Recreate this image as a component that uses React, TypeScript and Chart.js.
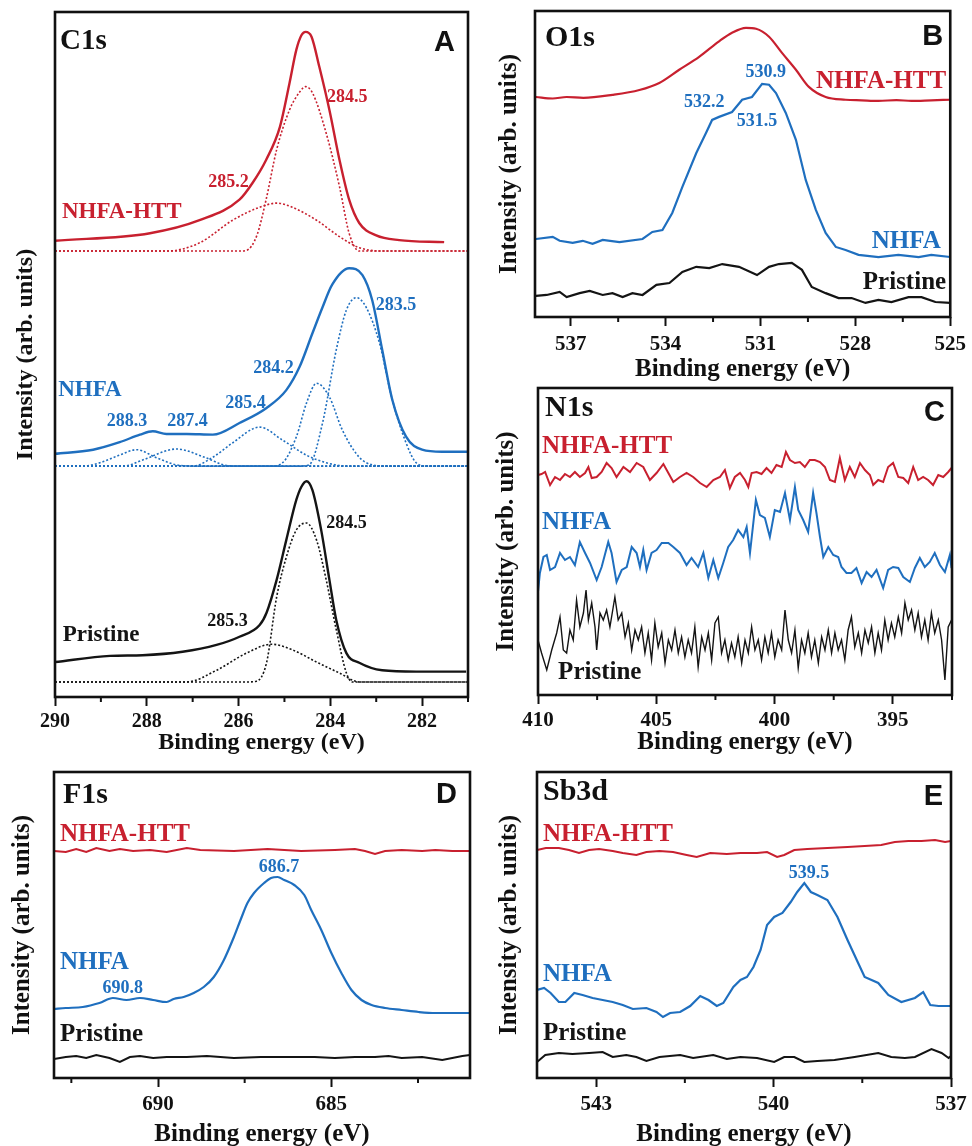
import React, { useEffect, useRef } from "react";
import { Chart, registerables } from "chart.js";
Chart.register(...registerables);

const RED = "#c8202f";
const BLUE = "#1f6fbf";
const BLACK = "#141414";
const SERIF = "'Liberation Serif', 'Times New Roman', serif";
const SANS = "'Liberation Sans', Arial, sans-serif";

// ---------- Panel A: C1s ----------
const A_HTT_E = [290, 287.93, 286.85, 285.98, 285.7, 285.4, 285.1, 284.89, 284.74, 284.63, 284.54, 284.41, 284.24, 284.02, 283.8, 283.59, 283.37, 283.0, 282.5, 281.52];
const A_HTT_I = [66.6, 67.7, 69.6, 72.6, 75.0, 78.4, 83.2, 89.6, 94.5, 96.6, 97.1, 96.4, 92.0, 85.7, 78.4, 72.6, 69.2, 67.4, 66.7, 66.4];
const A_HTT_F1_E = [290, 286.0, 285.83, 285.6, 285.4, 285.17, 284.89, 284.67, 284.54, 284.39, 284.09, 283.8, 283.59, 283.37, 281];
const A_HTT_F1_I = [65.1, 65.1, 65.2, 67.4, 72.6, 79.9, 85.7, 88.3, 89.1, 88.2, 82.3, 74.5, 67.7, 65.1, 65.1];
const A_HTT_F2_E = [290, 287.57, 286.85, 286.13, 285.54, 285.17, 284.83, 284.3, 283.8, 283.37, 282.87, 281];
const A_HTT_F2_I = [65.1, 65.1, 66.3, 69.6, 71.5, 72.1, 71.5, 69.6, 67.2, 65.6, 65.1, 65.1];

const A_NHFA_E = [290, 289.17, 288.59, 288.15, 287.87, 287.57, 287.13, 286.56, 285.98, 285.39, 284.96, 284.67, 284.39, 284.17, 283.96, 283.59, 283.3, 283.09, 282.87, 282.65, 282.35, 282.0, 281.57, 281.0];
const A_NHFA_I = [35.5, 36.1, 37.2, 38.3, 38.8, 38.4, 38.4, 38.3, 40.0, 42.2, 44.8, 48.2, 53.1, 56.9, 60.2, 62.6, 61.6, 58.0, 50.7, 43.4, 38.0, 36.1, 35.8, 35.8];
const A_NHFA_F1_E = [290, 289.4, 289.02, 288.6, 288.22, 287.78, 287.28, 286.8, 281];
const A_NHFA_F1_I = [33.7, 33.7, 34.2, 35.3, 36.1, 34.9, 33.8, 33.7, 33.7];
const A_NHFA_F2_E = [290, 288.5, 288.09, 287.35, 286.7, 286.26, 285.8, 281];
const A_NHFA_F2_I = [33.7, 33.7, 34.6, 36.2, 34.9, 33.8, 33.7, 33.7];
const A_NHFA_F3_E = [290, 287.0, 286.56, 286.13, 285.54, 285.04, 284.52, 284.09, 283.6, 281];
const A_NHFA_F3_I = [33.7, 33.7, 35.0, 37.1, 39.4, 37.5, 35.3, 34.2, 33.7, 33.7];
const A_NHFA_F4_E = [290, 285.3, 285.04, 284.74, 284.52, 284.3, 284.02, 283.74, 283.37, 283.09, 282.7, 281];
const A_NHFA_F4_I = [33.7, 33.7, 34.2, 38.0, 42.9, 45.8, 43.8, 39.0, 35.0, 33.9, 33.7, 33.7];
const A_NHFA_F5_E = [290, 284.7, 284.46, 284.17, 283.87, 283.65, 283.43, 283.22, 282.93, 282.65, 282.35, 282.13, 281.9, 281];
const A_NHFA_F5_I = [33.7, 33.7, 33.9, 40.0, 50.7, 56.5, 58.3, 56.9, 51.7, 43.4, 37.1, 34.2, 33.7, 33.7];

const A_PRI_E = [290, 288.8, 288.09, 287.22, 286.48, 285.98, 285.54, 285.39, 285.17, 284.96, 284.74, 284.63, 284.52, 284.39, 284.2, 284.02, 283.87, 283.65, 283.37, 282.87, 282.13, 281.04];
const A_PRI_I = [5.1, 6.0, 6.1, 6.6, 7.6, 8.8, 10.5, 12.3, 17.1, 22.9, 28.8, 30.7, 31.5, 30.2, 24.4, 17.1, 11.2, 6.4, 5.0, 3.9, 3.7, 3.7];
const A_PRI_F1_E = [290, 285.8, 285.61, 285.39, 285.17, 284.96, 284.74, 284.52, 284.3, 284.09, 283.87, 283.65, 283.52, 281];
const A_PRI_F1_I = [2.2, 2.2, 2.3, 5.0, 14.6, 20.4, 24.4, 25.4, 22.9, 17.1, 9.8, 3.5, 2.2, 2.2];
const A_PRI_F2_E = [290, 287.13, 286.48, 285.83, 285.28, 284.83, 284.3, 283.8, 283.37, 281];
const A_PRI_F2_I = [2.2, 2.2, 3.9, 6.4, 7.7, 6.9, 5.1, 3.5, 2.2, 2.2];

const A_MAJOR = [290, 288, 286, 284, 282];
const A_MINOR = [289, 287, 285, 283, 281];

// ---------- Panel B: O1s ----------
const B_HTT_E = [538.1, 537.57, 537.13, 536.6, 535.68, 534.83, 534.2, 533.57, 532.94, 532.31, 531.9, 531.46, 531.14, 530.73, 530.32, 529.88, 529.47, 528.94, 528.31, 527.8, 527.27, 526.7, 526.23, 525.6, 525.0];
const B_HTT_I = [71.9, 71.4, 71.9, 71.6, 72.6, 74.2, 76.5, 80.8, 85.0, 90.1, 92.9, 94.5, 94.2, 91.6, 86.3, 80.8, 75.2, 71.9, 71.0, 70.8, 70.6, 70.9, 70.6, 70.8, 71.0];
const B_NHFA_E = [538.1, 537.57, 537.35, 536.94, 536.62, 536.31, 535.99, 535.46, 534.73, 534.42, 534.1, 533.79, 533.47, 533.03, 532.72, 532.53, 532.31, 531.9, 531.58, 531.27, 530.95, 530.73, 530.51, 530.2, 529.88, 529.57, 529.25, 528.94, 528.62, 528.31, 527.9, 527.27, 526.64, 526.0, 525.6, 525.0];
const B_NHFA_I = [25.5, 26.2, 24.9, 24.2, 24.9, 23.9, 25.2, 24.5, 25.5, 27.8, 28.4, 34.0, 42.5, 53.6, 60.2, 64.4, 65.4, 67.0, 71.0, 71.9, 76.2, 75.9, 73.2, 66.7, 57.9, 44.8, 35.0, 27.5, 22.9, 21.9, 20.3, 19.6, 20.3, 19.6, 20.3, 19.6];
const B_PRI_E = [538.1, 537.76, 537.35, 537.13, 536.72, 536.4, 535.99, 535.68, 535.36, 535.05, 534.73, 534.29, 533.88, 533.47, 533.03, 532.62, 532.21, 531.68, 531.11, 530.73, 530.42, 530.01, 529.69, 529.38, 528.94, 528.53, 528.12, 527.68, 527.27, 526.86, 526.32, 525.91, 525.47, 525.0];
const B_PRI_I = [6.9, 7.2, 8.2, 6.5, 7.8, 8.5, 7.2, 7.8, 6.5, 7.8, 7.2, 10.5, 11.1, 14.7, 16.4, 16.0, 17.3, 16.4, 13.7, 16.4, 17.3, 17.7, 15.4, 9.8, 7.8, 6.2, 6.2, 4.6, 5.6, 4.9, 6.5, 6.5, 4.9, 4.6];
const B_MAJOR = [537, 534, 531, 528, 525];
const B_MINOR = [535.5, 532.5, 529.5, 526.5];

// ---------- Panel C: N1s ----------
const C_HTT_E = [410.0, 409.85, 409.70, 409.49, 409.28, 409.07, 408.86, 408.65, 408.44, 408.23, 408.01, 407.87, 407.73, 407.52, 407.31, 407.10, 406.89, 406.68, 406.39, 406.11, 405.83, 405.55, 405.27, 404.99, 404.70, 404.49, 404.28, 404.00, 403.72, 403.44, 403.15, 402.87, 402.59, 402.31, 402.10, 401.89, 401.68, 401.46, 401.25, 401.11, 400.97, 400.76, 400.55, 400.34, 400.13, 399.92, 399.70, 399.52, 399.35, 399.14, 398.93, 398.72, 398.51, 398.30, 398.08, 397.87, 397.66, 397.45, 397.24, 397.03, 396.82, 396.61, 396.39, 396.18, 395.97, 395.83, 395.62, 395.41, 395.20, 394.99, 394.77, 394.56, 394.35, 394.14, 393.93, 393.72, 393.51, 393.30, 393.08, 392.87, 392.66, 392.52];
const C_HTT_I = [220, 221, 223, 210, 218, 215, 221, 218, 223, 218, 222, 228, 217, 218, 223, 232, 227, 218, 228, 223, 232, 228, 215, 222, 231, 222, 213, 218, 222, 218, 212, 208, 215, 218, 225, 207, 218, 222, 215, 208, 222, 223, 221, 227, 222, 230, 228, 243, 235, 232, 233, 228, 235, 235, 233, 228, 215, 213, 237, 215, 228, 218, 232, 225, 220, 210, 215, 213, 228, 232, 218, 217, 212, 228, 215, 218, 215, 210, 220, 218, 223, 227];
const C_NHFA_E = [410.0, 409.92, 409.77, 409.63, 409.49, 409.28, 409.07, 408.86, 408.65, 408.44, 408.23, 408.01, 407.80, 407.52, 407.31, 407.03, 406.89, 406.68, 406.46, 406.25, 406.04, 405.83, 405.69, 405.55, 405.41, 405.20, 404.99, 404.77, 404.49, 404.28, 404.00, 403.72, 403.51, 403.23, 403.01, 402.80, 402.59, 402.38, 402.17, 401.96, 401.75, 401.54, 401.32, 401.18, 401.04, 400.79, 400.62, 400.41, 400.20, 399.99, 399.77, 399.56, 399.35, 399.14, 399.00, 398.79, 398.58, 398.37, 398.23, 398.08, 397.94, 397.73, 397.52, 397.31, 397.17, 396.96, 396.75, 396.54, 396.32, 396.11, 395.90, 395.69, 395.41, 395.20, 394.99, 394.77, 394.56, 394.28, 394.07, 393.86, 393.65, 393.44, 393.23, 393.01, 392.80, 392.59, 392.52];
const C_NHFA_I = [103, 122, 138, 140, 125, 128, 142, 135, 138, 130, 153, 142, 132, 115, 128, 153, 142, 113, 125, 128, 148, 142, 128, 145, 125, 142, 145, 152, 152, 148, 142, 130, 137, 128, 142, 117, 135, 117, 132, 148, 155, 165, 158, 168, 142, 195, 180, 177, 158, 185, 183, 202, 175, 208, 185, 175, 163, 202, 182, 158, 138, 148, 140, 138, 128, 122, 122, 127, 112, 123, 118, 125, 107, 125, 128, 127, 118, 113, 127, 137, 128, 133, 142, 130, 123, 140, 127];
const C_PRI_E = [410.0, 409.85, 409.63, 409.42, 409.21, 409.07, 408.93, 408.79, 408.65, 408.51, 408.37, 408.23, 408.08, 407.97, 407.87, 407.73, 407.59, 407.52, 407.38, 407.24, 407.10, 406.96, 406.82, 406.75, 406.61, 406.46, 406.32, 406.18, 406.04, 405.90, 405.76, 405.62, 405.48, 405.34, 405.20, 405.06, 404.92, 404.77, 404.63, 404.49, 404.35, 404.21, 404.07, 403.93, 403.79, 403.65, 403.51, 403.37, 403.23, 403.08, 402.94, 402.80, 402.66, 402.52, 402.38, 402.24, 402.10, 401.96, 401.82, 401.68, 401.54, 401.39, 401.25, 401.11, 400.97, 400.83, 400.69, 400.55, 400.41, 400.27, 400.13, 399.99, 399.85, 399.70, 399.56, 399.42, 399.28, 399.14, 399.00, 398.86, 398.72, 398.58, 398.44, 398.30, 398.15, 398.01, 397.87, 397.73, 397.59, 397.45, 397.31, 397.17, 397.03, 396.89, 396.75, 396.61, 396.46, 396.32, 396.18, 396.04, 395.90, 395.76, 395.62, 395.48, 395.34, 395.20, 395.06, 394.92, 394.77, 394.63, 394.49, 394.35, 394.21, 394.07, 393.93, 393.79, 393.65, 393.51, 393.37, 393.23, 393.08, 392.94, 392.80, 392.66, 392.52];
const C_PRI_I = [55, 42, 25, 45, 62, 78, 45, 42, 65, 55, 95, 68, 82, 105, 75, 92, 68, 45, 82, 75, 85, 68, 88, 98, 75, 82, 58, 72, 45, 65, 55, 68, 42, 62, 35, 72, 48, 62, 32, 55, 45, 65, 42, 58, 38, 55, 42, 68, 28, 58, 45, 62, 35, 72, 78, 42, 55, 35, 52, 38, 58, 32, 55, 42, 68, 45, 55, 35, 58, 42, 62, 38, 55, 45, 85, 55, 42, 65, 27, 55, 42, 62, 38, 55, 32, 58, 45, 65, 42, 62, 45, 55, 35, 65, 78, 48, 62, 42, 65, 52, 68, 42, 62, 45, 75, 55, 72, 58, 78, 62, 92, 75, 85, 65, 82, 58, 75, 55, 82, 62, 75, 55, 15, 68, 75];
const C_MAJOR = [410, 405, 400, 395];
const C_MINOR = [407.5, 402.5, 397.5, 392.5];

// ---------- Panel D: F1s ----------
const D_HTT_E = [693.0, 692.66, 692.36, 692.07, 691.78, 691.40, 691.10, 690.72, 690.23, 689.75, 689.17, 688.78, 687.81, 686.84, 685.87, 684.90, 684.32, 684.03, 683.74, 683.45, 682.97, 682.38, 682.0, 681.51, 681.0];
const D_HTT_I = [227, 226, 229, 226, 230, 227, 229, 227, 228, 226, 230, 228, 227, 229, 227, 228, 229, 227, 224, 227, 228, 227, 228, 227, 227];
const D_NHFA_E = [693.0, 692.66, 692.17, 691.69, 691.30, 690.91, 690.52, 690.14, 689.75, 689.55, 689.26, 688.97, 688.68, 688.39, 688.10, 687.81, 687.62, 687.42, 687.23, 686.94, 686.74, 686.55, 686.36, 686.07, 685.78, 685.58, 685.29, 685.0, 684.71, 684.42, 684.13, 683.84, 683.45, 682.97, 682.48, 682.0, 681.51, 681.0];
const D_NHFA_I = [69, 70, 71, 75, 80, 78, 80, 78, 76, 79, 81, 85, 91, 101, 118, 141, 158, 175, 185, 195, 200, 201, 198, 193, 183, 168, 148, 125, 105, 88, 78, 73, 70, 68, 66, 65, 65, 65];
const D_PRI_E = [693.0, 692.66, 692.36, 692.07, 691.78, 691.40, 691.10, 690.81, 690.52, 690.14, 689.75, 689.17, 688.59, 687.81, 687.03, 686.26, 685.48, 684.90, 684.32, 683.74, 683.35, 682.97, 682.38, 681.80, 681.22, 681.0];
const D_PRI_I = [19, 21, 22, 20, 23, 20, 16, 21, 22, 20, 21, 21, 22, 20, 21, 21, 21, 20, 21, 21, 22, 20, 21, 18, 22, 23];
const D_MAJOR = [690, 685];
const D_MINOR = [692.5, 687.5, 682.5];

// ---------- Panel E: Sb3d ----------
const E_HTT_E = [544.0, 543.85, 543.63, 543.46, 543.29, 543.12, 542.95, 542.72, 542.55, 542.32, 542.15, 541.93, 541.70, 541.47, 541.30, 541.07, 540.79, 540.56, 540.28, 540.11, 539.94, 539.82, 539.65, 539.43, 539.09, 538.75, 538.46, 538.18, 537.95, 537.72, 537.50, 537.27, 537.10, 537.0];
const E_HTT_I = [228, 230, 230, 228, 225, 228, 229, 227, 225, 223, 226, 227, 226, 223, 221, 225, 224, 225, 225, 226, 221, 223, 228, 229, 230, 231, 232, 233, 236, 237, 237, 238, 236, 237];
const E_NHFA_E = [544.0, 543.88, 543.77, 543.63, 543.52, 543.37, 543.23, 543.06, 542.89, 542.72, 542.55, 542.38, 542.15, 541.98, 541.87, 541.75, 541.58, 541.41, 541.24, 541.10, 540.96, 540.85, 540.68, 540.56, 540.45, 540.34, 540.22, 540.11, 539.99, 539.85, 539.71, 539.60, 539.48, 539.37, 539.26, 539.09, 538.92, 538.75, 538.57, 538.46, 538.23, 538.06, 537.84, 537.61, 537.47, 537.35, 537.21, 537.0];
const E_NHFA_I = [88, 90, 85, 76, 76, 85, 83, 80, 78, 76, 73, 69, 70, 66, 61, 65, 66, 72, 82, 78, 72, 75, 91, 98, 101, 111, 128, 153, 161, 165, 176, 186, 195, 186, 183, 178, 161, 138, 115, 101, 95, 83, 76, 80, 86, 73, 72, 72];
const E_PRI_E = [544.0, 543.86, 543.63, 543.40, 543.12, 542.89, 542.72, 542.49, 542.32, 542.15, 541.93, 541.58, 541.36, 541.02, 540.79, 540.56, 540.28, 539.99, 539.82, 539.65, 539.48, 539.26, 538.97, 538.63, 538.23, 538.01, 537.78, 537.61, 537.33, 537.16, 537.04, 537.0];
const E_PRI_I = [16, 23, 25, 24, 25, 26, 21, 23, 21, 17, 21, 23, 20, 23, 19, 21, 20, 16, 21, 21, 16, 17, 18, 21, 25, 21, 20, 21, 29, 25, 20, 22];
const E_MAJOR = [543, 540, 537];
const E_MINOR = [541.5, 538.5];

// ---------- types & config ----------
type Series = { e: number[]; v: number[]; color: string; dotted?: boolean; width?: number; smooth?: boolean };
type Label = { text: string; e: number; v: number; color: string; size: number; align: CanvasTextAlign };
type Panel = {
  left: number; top: number; width: number; height: number;
  padTop: number; padRight: number; axisW: number; axisH: number;
  xMin: number; xMax: number; yMax: number;
  major: number[]; minor: number[];
  tickFont: number; tickPad: number; titleFont: number; titleBottom: number; yTitlePad: number;
  series: Series[]; labels: Label[];
  name: string; nameSize: number; nameDx: number; nameDy: number;
  letter: string; letterSize: number; letterDx: number; letterDy: number;
};

const pk = (text: string, e: number, v: number, color: string, size = 18): Label => ({ text, e, v, color, size, align: "center" });
const nm = (text: string, e: number, v: number, color: string, size: number, align: CanvasTextAlign = "left"): Label => ({ text, e, v, color, size, align });

const PANELS: Panel[] = [
  {
    left: 0, top: 0, width: 480, height: 760, padTop: 12, padRight: 12, axisW: 55, axisH: 63,
    xMin: 281, xMax: 290, yMax: 100, major: A_MAJOR, minor: A_MINOR,
    tickFont: 20, tickPad: 4, titleFont: 24, titleBottom: 3, yTitlePad: 11,
    series: [
      { e: A_HTT_F1_E, v: A_HTT_F1_I, color: RED, dotted: true, smooth: true },
      { e: A_HTT_F2_E, v: A_HTT_F2_I, color: RED, dotted: true, smooth: true },
      { e: A_HTT_E, v: A_HTT_I, color: RED, width: 2.4, smooth: true },
      { e: A_NHFA_F1_E, v: A_NHFA_F1_I, color: BLUE, dotted: true, smooth: true },
      { e: A_NHFA_F2_E, v: A_NHFA_F2_I, color: BLUE, dotted: true, smooth: true },
      { e: A_NHFA_F3_E, v: A_NHFA_F3_I, color: BLUE, dotted: true, smooth: true },
      { e: A_NHFA_F4_E, v: A_NHFA_F4_I, color: BLUE, dotted: true, smooth: true },
      { e: A_NHFA_F5_E, v: A_NHFA_F5_I, color: BLUE, dotted: true, smooth: true },
      { e: A_NHFA_E, v: A_NHFA_I, color: BLUE, width: 2.4, smooth: true },
      { e: A_PRI_F1_E, v: A_PRI_F1_I, color: BLACK, dotted: true, smooth: true },
      { e: A_PRI_F2_E, v: A_PRI_F2_I, color: BLACK, dotted: true, smooth: true },
      { e: A_PRI_E, v: A_PRI_I, color: BLACK, width: 2.4, smooth: true },
    ],
    labels: [
      pk("284.5", 283.63, 87.6, RED), pk("285.2", 286.22, 75.2, RED), nm("NHFA-HTT", 289.85, 70.8, RED, 23),
      pk("283.5", 282.57, 57.2, BLUE), pk("284.2", 285.24, 48.0, BLUE), pk("285.4", 285.85, 42.9, BLUE),
      pk("288.3", 288.43, 40.2, BLUE), pk("287.4", 287.11, 40.2, BLUE), nm("NHFA", 289.93, 44.8, BLUE, 23),
      pk("284.5", 283.65, 25.4, BLACK), pk("285.3", 286.24, 11.0, BLACK), nm("Pristine", 289.83, 9.1, BLACK, 23),
    ],
    name: "C1s", nameSize: 29, nameDx: 5, nameDy: 30, letter: "A", letterSize: 29, letterDx: 13, letterDy: 31,
  },
  {
    left: 480, top: 0, width: 492, height: 386, padTop: 11, padRight: 19, axisW: 55, axisH: 69,
    xMin: 525, xMax: 538.13, yMax: 100, major: B_MAJOR, minor: B_MINOR,
    tickFont: 21, tickPad: 6, titleFont: 25, titleBottom: 1, yTitlePad: 15,
    series: [
      { e: B_HTT_E, v: B_HTT_I, color: RED, width: 2.2, smooth: true },
      { e: B_NHFA_E, v: B_NHFA_I, color: BLUE, width: 2.2 },
      { e: B_PRI_E, v: B_PRI_I, color: BLACK, width: 2.2 },
    ],
    labels: [
      pk("530.9", 530.83, 79.8, BLUE), pk("532.2", 532.78, 70.3, BLUE), pk("531.5", 531.11, 63.8, BLUE),
      nm("NHFA-HTT", 525.13, 76.8, RED, 25, "right"), nm("NHFA", 525.3, 24.5, BLUE, 25, "right"),
      nm("Pristine", 525.13, 11.1, BLACK, 25, "right"),
    ],
    name: "O1s", nameSize: 30, nameDx: 10, nameDy: 27, letter: "B", letterSize: 29, letterDx: 7, letterDy: 26,
  },
  {
    left: 480, top: 386, width: 492, height: 374, padTop: 2, padRight: 20, axisW: 58, axisH: 65,
    xMin: 392.5, xMax: 410, yMax: 307, major: C_MAJOR, minor: C_MINOR,
    tickFont: 21, tickPad: 4, titleFont: 25, titleBottom: 2, yTitlePad: 12,
    series: [
      { e: C_HTT_E, v: C_HTT_I, color: RED, width: 2 },
      { e: C_NHFA_E, v: C_NHFA_I, color: BLUE, width: 2 },
      { e: C_PRI_E, v: C_PRI_I, color: BLACK, width: 1.4 },
    ],
    labels: [
      nm("NHFA-HTT", 409.83, 248, RED, 25), nm("NHFA", 409.83, 172, BLUE, 25), nm("Pristine", 409.15, 22, BLACK, 25),
    ],
    name: "N1s", nameSize: 30, nameDx: 7, nameDy: 20, letter: "C", letterSize: 29, letterDx: 7, letterDy: 25,
  },
  {
    left: 0, top: 762, width: 480, height: 400, padTop: 10, padRight: 10, axisW: 54, axisH: 84,
    xMin: 681, xMax: 693, yMax: 306, major: D_MAJOR, minor: D_MINOR,
    tickFont: 21, tickPad: 5, titleFont: 25, titleBottom: 12, yTitlePad: 8,
    series: [
      { e: D_HTT_E, v: D_HTT_I, color: RED, width: 2 },
      { e: D_NHFA_E, v: D_NHFA_I, color: BLUE, width: 2.2, smooth: true },
      { e: D_PRI_E, v: D_PRI_I, color: BLACK, width: 2 },
    ],
    labels: [
      nm("NHFA-HTT", 692.83, 243, RED, 25), pk("686.7", 686.51, 211, BLUE), nm("NHFA", 692.83, 115, BLUE, 25),
      pk("690.8", 691.02, 90, BLUE), nm("Pristine", 692.83, 43, BLACK, 25),
    ],
    name: "F1s", nameSize: 30, nameDx: 9, nameDy: 23, letter: "D", letterSize: 29, letterDx: 13, letterDy: 23,
  },
  {
    left: 480, top: 762, width: 492, height: 400, padTop: 10, padRight: 21, axisW: 57, axisH: 84,
    xMin: 537, xMax: 544, yMax: 306, major: E_MAJOR, minor: E_MINOR,
    tickFont: 21, tickPad: 5, titleFont: 25, titleBottom: 12, yTitlePad: 15,
    series: [
      { e: E_HTT_E, v: E_HTT_I, color: RED, width: 2 },
      { e: E_NHFA_E, v: E_NHFA_I, color: BLUE, width: 2.2 },
      { e: E_PRI_E, v: E_PRI_I, color: BLACK, width: 2 },
    ],
    labels: [
      nm("NHFA-HTT", 543.9, 243, RED, 25), pk("539.5", 539.4, 205, BLUE), nm("NHFA", 543.9, 103, BLUE, 25),
      nm("Pristine", 543.9, 44, BLACK, 25),
    ],
    name: "Sb3d", nameSize: 30, nameDx: 6, nameDy: 20, letter: "E", letterSize: 29, letterDx: 8, letterDy: 25,
  },
];

function PanelChart({ p }: { p: Panel }) {
  const ref = useRef<HTMLCanvasElement | null>(null);
  useEffect(() => {
    if (!ref.current) return;
    const deco = {
      id: "deco",
      afterDatasetsDraw(chart: any) {
        const { ctx, chartArea: a, scales } = chart;
        const x = scales.x, y = scales.y;
        ctx.save();
        ctx.strokeStyle = "#111";
        ctx.lineWidth = 2;
        for (const m of p.minor) {
          const px = x.getPixelForValue(m);
          ctx.beginPath();
          ctx.moveTo(px, a.bottom);
          ctx.lineTo(px, a.bottom + 5);
          ctx.stroke();
        }
        ctx.lineWidth = 2.6;
        ctx.strokeRect(a.left, a.top, a.right - a.left, a.bottom - a.top);
        ctx.textBaseline = "middle";
        for (const l of p.labels) {
          ctx.font = `bold ${l.size}px ${SERIF}`;
          ctx.fillStyle = l.color;
          ctx.textAlign = l.align;
          ctx.fillText(l.text, x.getPixelForValue(l.e), y.getPixelForValue(l.v));
        }
        ctx.fillStyle = "#111";
        ctx.font = `bold ${p.nameSize}px ${SERIF}`;
        ctx.textAlign = "left";
        ctx.fillText(p.name, a.left + p.nameDx, a.top + p.nameDy);
        ctx.font = `bold ${p.letterSize}px ${SANS}`;
        ctx.textAlign = "right";
        ctx.fillText(p.letter, a.right - p.letterDx, a.top + p.letterDy);
        ctx.restore();
      },
    };
    const chart = new Chart(ref.current, {
      type: "line",
      data: {
        datasets: p.series.map((s) => ({
          data: s.e.map((e, i) => ({ x: e, y: s.v[i] })).filter((d) => d.y !== undefined),
          borderColor: s.color,
          borderWidth: s.dotted ? 1.6 : s.width ?? 2,
          borderDash: s.dotted ? [2, 2] : [],
          pointRadius: 0,
          fill: false,
          tension: s.smooth ? 0.4 : 0,
          cubicInterpolationMode: s.smooth ? "monotone" : "default",
        })),
      },
      options: {
        animation: false,
        responsive: false,
        maintainAspectRatio: false,
        devicePixelRatio: 1,
        parsing: false as any,
        layout: { padding: { top: p.padTop, right: p.padRight, left: 0, bottom: 0 } },
        plugins: { legend: { display: false }, tooltip: { enabled: false } },
        scales: {
          x: {
            type: "linear",
            reverse: true,
            min: p.xMin,
            max: p.xMax,
            afterBuildTicks: (s: any) => {
              s.ticks = p.major.map((v) => ({ value: v }));
            },
            afterFit: (s: any) => {
              s.height = p.axisH;
            },
            ticks: {
              autoSkip: false,
              maxRotation: 0,
              padding: p.tickPad,
              color: "#111",
              font: { family: SERIF, size: p.tickFont, weight: "bold" },
              callback: (v: any) => String(v),
            },
            grid: { display: true, drawOnChartArea: false, drawTicks: true, tickLength: 9, tickWidth: 2, tickColor: "#111" },
            border: { display: false },
            title: {
              display: true,
              text: "Binding energy (eV)",
              color: "#111",
              font: { family: SERIF, size: p.titleFont, weight: "bold" },
              padding: { top: 0, bottom: p.titleBottom },
            },
          },
          y: {
            type: "linear",
            min: 0,
            max: p.yMax,
            afterFit: (s: any) => {
              s.width = p.axisW;
            },
            ticks: { display: false },
            grid: { display: false },
            border: { display: false },
            title: {
              display: true,
              text: "Intensity (arb. units)",
              color: "#111",
              font: { family: SERIF, size: p.titleFont, weight: "bold" },
              padding: { top: p.yTitlePad, bottom: 0 },
            },
          },
        },
      } as any,
      plugins: [deco],
    });
    return () => chart.destroy();
  }, [p]);
  return (
    <canvas
      ref={ref}
      width={p.width}
      height={p.height}
      style={{ position: "absolute", left: p.left, top: p.top, width: p.width, height: p.height }}
    />
  );
}

export default function App() {
  return (
    <div style={{ position: "absolute", left: 0, top: 0, width: 972, height: 1146, overflow: "hidden", background: "#fff" }}>
      {PANELS.map((p, i) => (
        <PanelChart key={i} p={p} />
      ))}
    </div>
  );
}
